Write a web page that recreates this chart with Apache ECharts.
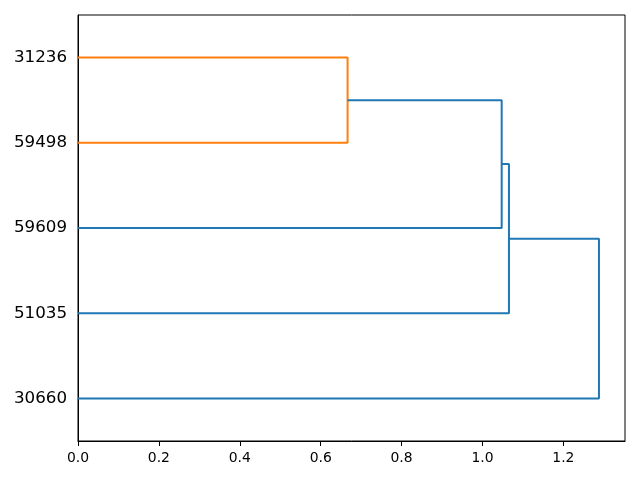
<!DOCTYPE html>
<html>
<head>
<meta charset="utf-8">
<script src="https://cdn.jsdelivr.net/npm/echarts@6/dist/echarts.min.js"></script>
<style>html,body{margin:0;padding:0;background:#fff}#c{width:640px;height:480px}</style>
</head>
<body>
<div id="c"></div>
<script>
// Leaf labels, bottom to top
const leaves = ['30660', '51035', '59609', '59498', '31236'];
// Merge steps: node indices (leaves 0..4, clusters 5..), link height, colour
const mergeLeft = [4, 5, 6, 7];
const mergeRight = [3, 2, 1, 0];
const mergeHeight = [0.6665, 1.0475, 1.0655, 1.288];
const mergeColor = ['#ff7f0e', '#1f77b4', '#1f77b4', '#1f77b4'];
const xTicks = [0, 0.2, 0.4, 0.6, 0.8, 1.0, 1.2];

const nodeY = leaves.map((_, i) => 5 + 10 * i);
const nodeH = leaves.map(() => 0);
const series = [];
for (let k = 0; k < mergeHeight.length; k++) {
  const a = mergeLeft[k], b = mergeRight[k], h = mergeHeight[k];
  series.push({
    type: 'line',
    data: [[nodeH[a], nodeY[a]], [h, nodeY[a]], [h, nodeY[b]], [nodeH[b], nodeY[b]]],
    symbol: 'none',
    lineStyle: { color: mergeColor[k], width: 2 },
    animation: false,
    silent: true
  });
  nodeY.push((nodeY[a] + nodeY[b]) / 2);
  nodeH.push(h);
}
const xMax = Math.max(...mergeHeight) * 1.05;

const chart = echarts.init(document.getElementById('c'), null, { renderer: 'canvas' });
chart.setOption({
  backgroundColor: '#fff',
  animation: false,
  grid: { left: 78, right: 15, top: 15, bottom: 39, show: true, borderColor: '#000', borderWidth: 1, backgroundColor: 'transparent' },
  xAxis: {
    type: 'value', min: 0, max: xMax,
    axisLine: { show: true, lineStyle: { color: '#000', width: 1 } },
    axisTick: { show: true, inside: false, length: 5, lineStyle: { color: '#000' }, customValues: xTicks },
    axisLabel: { show: true, margin: 10, fontFamily: 'DejaVu Sans', fontSize: 13.9, color: '#000', customValues: xTicks, formatter: v => v.toFixed(1) },
    splitLine: { show: false }
  },
  yAxis: {
    type: 'value', min: 0, max: leaves.length * 10,
    axisLine: { show: true, lineStyle: { color: '#000', width: 1 } },
    axisTick: { show: false },
    axisLabel: { show: true, margin: 11, fontFamily: 'DejaVu Sans', fontSize: 16.7, color: '#000', customValues: nodeY.slice(0, leaves.length), formatter: v => leaves[Math.round((v - 5) / 10)] },
    splitLine: { show: false }
  },
  series: series
});
</script>
</body>
</html>
